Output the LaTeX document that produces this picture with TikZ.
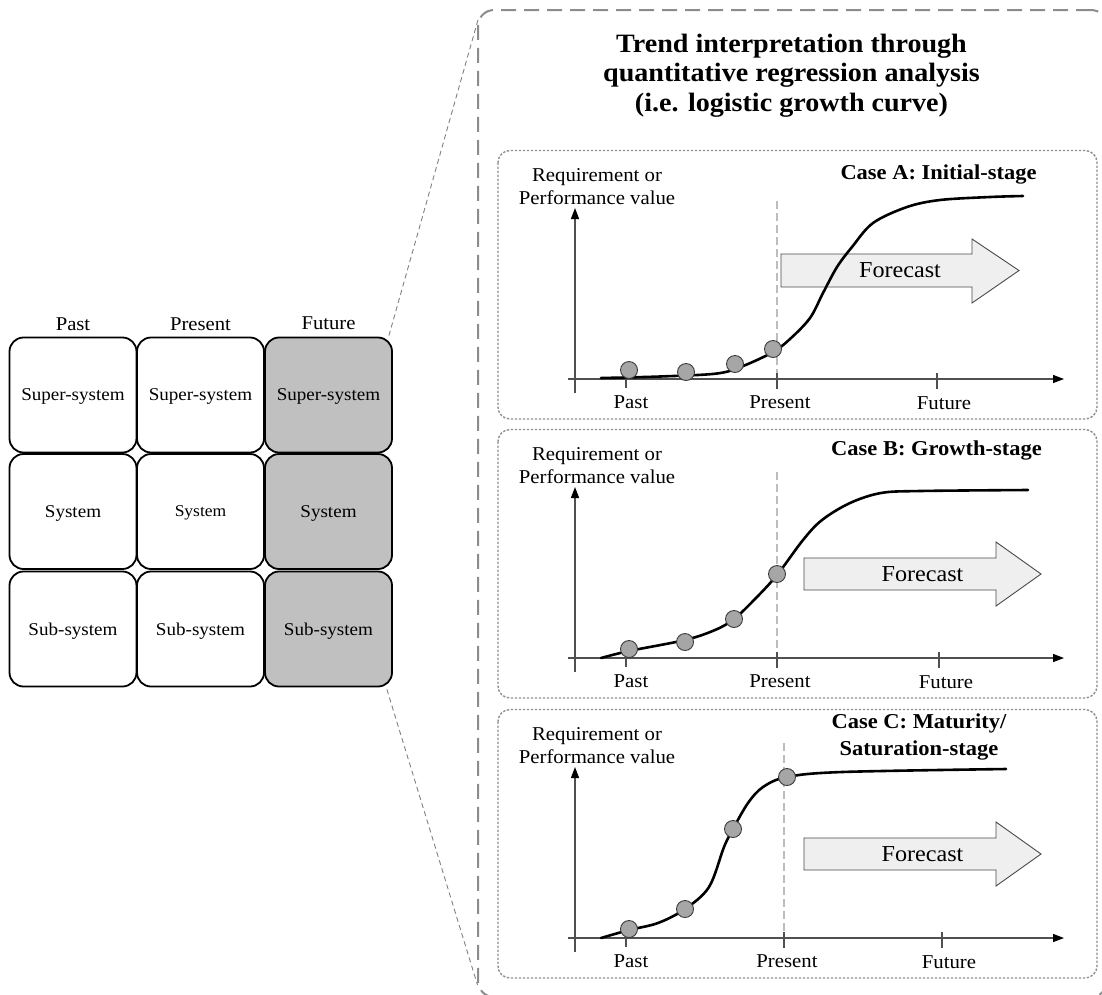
\documentclass[tikz,border=0pt]{standalone}
\usepackage{fontspec}
\setmainfont{Liberation Serif}[FakeStretch=1.06]
\usetikzlibrary{arrows.meta,calc}

\definecolor{cellgray}{HTML}{C0C0C0}
\definecolor{framegray}{HTML}{8C8C8C}
\definecolor{linkgray}{HTML}{808080}
\definecolor{panelgray}{HTML}{8F8F8F}
\definecolor{axisgray}{HTML}{505050}
\definecolor{nowgray}{HTML}{BDBDBD}
\definecolor{dotgray}{HTML}{A6A6A6}
\definecolor{dotedge}{HTML}{3A3A3A}
\definecolor{arrowfill}{HTML}{EFEFEF}
\definecolor{arrowedge}{HTML}{4A4A4A}

\tikzset{
  cell/.style={draw=black, line width=1.8pt, rounded corners=14pt,
    minimum width=127pt, minimum height=115pt, inner sep=0pt, text depth=0pt,
    font=\fontsize{18}{21}\selectfont},
  later/.style={cell, fill=cellgray},
  colhead/.style={anchor=base, inner sep=0pt, font=\fontsize{19.5}{23}\selectfont},
  frame/.style={draw=framegray, line width=2pt, dash pattern=on 15pt off 8pt,
    rounded corners=16pt, inner sep=0pt, outer sep=0pt},
  link/.style={draw=linkgray, line width=0.9pt, dash pattern=on 5pt off 3.5pt},
  panel/.style={draw=panelgray, line width=1.4pt, dash pattern=on 2.4pt off 1.6pt,
    rounded corners=12pt},
  axis/.style={draw=axisgray, line width=1.3pt},
  axisarrow/.style={axis, -{Triangle[length=11pt,width=8pt,color=black]}},
  tick/.style={axis, line width=1.2pt},
  nowline/.style={draw=nowgray, line width=1.1pt, dash pattern=on 8pt off 4pt},
  trend/.style={draw=black, line width=2.6pt, line cap=round},
  datum/.style={circle, draw=dotedge, fill=dotgray, line width=0.9pt,
    minimum size=17pt, inner sep=0pt},
  fcarrow/.style={draw=arrowedge, fill=arrowfill, line width=0.9pt},
  fctext/.style={inner sep=0pt, font=\fontsize{22.8}{26}\selectfont},
  ticklabel/.style={anchor=base, inner sep=0pt, font=\fontsize{19.6}{23}\selectfont},
  ylabel/.style={inner sep=0pt, align=center, font=\fontsize{19.6}{23.5}\selectfont},
  casetitle/.style={inner sep=0pt, align=center, font=\bfseries\fontsize{21.2}{27}\selectfont},
  headline/.style={inner sep=0pt, align=center, font=\bfseries\fontsize{26.5}{29.5}\selectfont},
}

% Frame, axes, ticks and labels shared by the three charts.
% #1 present x, #2 future x, #3 top of the present line, #4 name prefix
\newcommand\chartbase[4]{%
  \draw[panel] (498,150.5) rectangle (1097,419);
  \draw[nowline] (#1,#3) -- (#1,379);
  \draw[axisarrow] (568,379) -- (1064,379);
  \draw[axisarrow] (575,393) -- (575,208);
  \draw[tick] (626,379) -- (626,388);
  \draw[tick] (#1,373) -- (#1,389);
  \draw[tick] (#2,373) -- (#2,389);
  \node[ylabel] (#4val) at (597,186.5) {Requirement or\\Performance value};
  \node[ticklabel] (#4past) at (631,408.5) {Past};
  \node[ticklabel] (#4now) at ({#1+3},408.5) {Present};
  \node[ticklabel] (#4fut) at ({#2+7},409.5) {Future};
}

\begin{document}
\begin{tikzpicture}[x=1pt, y=-1pt]
\useasboundingbox (0,0) rectangle (1102,994);
\clip (0,0) rectangle (1102,994);

% ---------- time / system grid ----------
\node[colhead] (hpast) at (73,330) {Past};
\node[colhead] (hnow)  at (200.5,330) {Present};
\node[colhead] (hfut)  at (328.5,329) {Future};

\node[cell]  (c11) at (73,395)    {Super-system};
\node[cell]  (c12) at (200.5,395) {Super-system};
\node[later] (c13) at (328.5,395) {Super-system};
\node[cell]  (c21) at (73,511.5)    {System};
\node[cell, font=\fontsize{16.5}{19}\selectfont] (c22) at (200.5,511.5) {System};
\node[later] (c23) at (328.5,511.5) {System};
\node[cell]  (c31) at (73,629)    {Sub-system};
\node[cell]  (c32) at (200.5,629) {Sub-system};
\node[later] (c33) at (328.5,629) {Sub-system};

% ---------- enlarged detail ----------
\node[frame, anchor=north west, minimum width=629pt, minimum height=987pt]
  (detail) at (478,10) {};
\draw[link] ($(c13.north east)+(-4,-1)$) -- ($(detail.north west)+(0.5,8)$);
\draw[link] ($(c33.south east)+(-6,2)$) -- ($(detail.south west)+(-0.5,-12)$);

\node[headline] (ttl) at (791.5,75.5)
  {Trend interpretation through\\quantitative regression analysis\\(i.e. logistic growth curve)};

% ---------- Case A ----------
\chartbase{777}{937}{201}{a}
\node[casetitle, anchor=base] (catitle) at (938.5,179) {Case A: Initial-stage};
\draw[fcarrow] (781,254) -- (972,254) -- (972,239) -- (1019,270.5)
  -- (972,303) -- (972,287) -- (781,287) -- cycle;
\node[fctext] (afc) at (900,270.5) {Forecast};
\draw[trend] plot[smooth, tension=0.55] coordinates {
  (601,378) (660,376.5) (717,373.5) (743,366) (773,352) (790,339)
  (810,318) (823,293) (837,267) (852,247) (873,223) (907,207)
  (940,200) (990,197) (1023,196)};
\node[datum] (a1) at (629,370) {};
\node[datum] (a2) at (686,372) {};
\node[datum] (a3) at (735,364) {};
\node[datum] (a4) at (773,349) {};

% ---------- Case B ----------
\begin{scope}[shift={(0,279)}]
\chartbase{777}{939}{193}{b}
\node[casetitle, anchor=base] (cbtitle) at (936.5,176) {Case B: Growth-stage};
\draw[fcarrow] (804,279) -- (996,279) -- (996,263) -- (1041,295)
  -- (996,327) -- (996,311) -- (804,311) -- cycle;
\node[fctext] (bfc) at (922.5,295) {Forecast};
\draw[trend] plot[smooth, tension=0.55] coordinates {
  (601,379) (629,372) (685,361) (715,351) (734,340) (755,320)
  (777,296) (803,261) (822,241) (850,224) (881,214) (920,212) (1028,211)};
\node[datum] (b1) at (629,370) {};
\node[datum] (b2) at (685,363) {};
\node[datum] (b3) at (734,340) {};
\node[datum] (b4) at (777,295) {};
\end{scope}

% ---------- Case C ----------
\begin{scope}[shift={(0,559)}]
\chartbase{784}{942}{184}{c}
\node[casetitle] (cctitle) at (919,177.7) {Case C: Maturity/\\Saturation-stage};
\draw[fcarrow] (804,279) -- (996,279) -- (996,263) -- (1041,295)
  -- (996,327) -- (996,311) -- (804,311) -- cycle;
\node[fctext] (cfc) at (922.5,295) {Forecast};
\draw[trend] plot[smooth, tension=0.55] coordinates {
  (601,379) (629,371) (658,364) (685,350) (709,328) (724,288)
  (733,270) (748,244) (763,228) (787,218) (842,213) (1006,210)};
\node[datum] (d1) at (629,370) {};
\node[datum] (d2) at (685,350) {};
\node[datum] (d3) at (733,270) {};
\node[datum] (d4) at (787,218) {};
\end{scope}
\end{tikzpicture}
\end{document}
